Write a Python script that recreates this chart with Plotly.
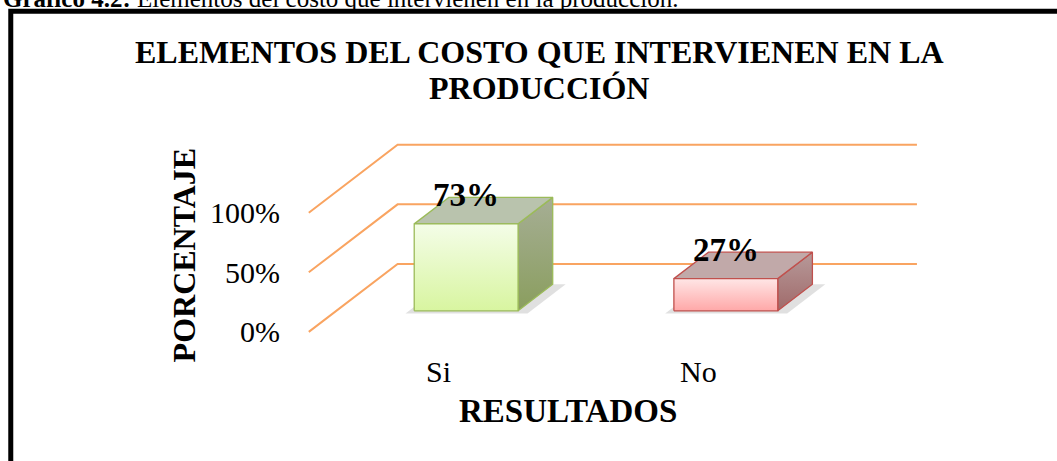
import plotly.graph_objects as go

# -------------------------
# DATA
# -------------------------
categories = ["Si", "No"]
values = [73, 27]
value_labels = ["73%", "27%"]
y_ticks = [0, 50, 100]
y_tick_text = ["0%", "50%", "100%"]

# -------------------------
# PSEUDO-3D PROJECTION
# -------------------------
DX = 0.342      # depth shift along x (category units) for full wall depth
DY = 57.1       # depth shift along y (percent units) for full wall depth
HALF_W = 0.2    # half bar width
Z_FRONT, Z_BACK = 0.31, 0.70

W, H = 1057, 461
L, T = 300.6, 139.2
R, B = W - 932.4, H - 339.1
X_RANGE = [-0.53, 1.9]
Y_RANGE = [-6, 162]

SERIF = "Liberation Serif, Times New Roman, serif"
GRID = "#F9A461"

faces = {
    "Si": dict(edge="#9BBB59", front=("#D8F5A0", "#F4FDE8"),
               top="#B9C3AD", side=("#8A9E5E", "#A6AE95")),
    "No": dict(edge="#C0504D", front=("#FFA8A8", "#FFE6E6"),
               top="#C1A9A9", side=("#A06A6A", "#B79A9A")),
}


def proj(x, y, z):
    return x + z * DX, y + z * DY


def paper_x(px):
    return (px - L) / (W - L - R)


def paper_y(py):
    return (H - B - py) / (H - T - B)


def poly(points, fillcolor=None, gradient=None, edge=None, width=1.3):
    xs = [p[0] for p in points] + [points[0][0]]
    ys = [p[1] for p in points] + [points[0][1]]
    kw = dict(x=xs, y=ys, mode="lines", fill="toself",
              line=dict(color=edge, width=width), hoverinfo="skip",
              showlegend=False)
    if gradient:
        kw["fillgradient"] = dict(type="vertical",
                                  colorscale=[[0, gradient[0]], [1, gradient[1]]])
    else:
        kw["fillcolor"] = fillcolor
    return go.Scatter(**kw)


fig = go.Figure()

# -------------------------
# WALL GRIDLINES
# -------------------------
x_left, x_right = -0.5, len(categories) - 0.5
for t in y_ticks:
    pts = [proj(x_left, t, 0), proj(x_left, t, 1), proj(x_right, t, 1)]
    fig.add_trace(go.Scatter(
        x=[p[0] for p in pts], y=[p[1] for p in pts], mode="lines",
        line=dict(color=GRID, width=2), hoverinfo="skip", showlegend=False))

# -------------------------
# BARS (shadow, side, top, front)
# -------------------------
for i, (cat, v) in enumerate(zip(categories, values)):
    st = faces[cat]
    x0, x1 = i - HALF_W, i + HALF_W
    shadow = [proj(x0 - 0.02, 0, Z_FRONT - 0.04), proj(x1 + 0.05, 0, Z_FRONT - 0.04),
              proj(x1 + 0.05, 0, Z_BACK), proj(x0 - 0.02, 0, Z_BACK)]
    side = [proj(x1, 0, Z_FRONT), proj(x1, 0, Z_BACK),
            proj(x1, v, Z_BACK), proj(x1, v, Z_FRONT)]
    top = [proj(x0, v, Z_FRONT), proj(x1, v, Z_FRONT),
           proj(x1, v, Z_BACK), proj(x0, v, Z_BACK)]
    front = [proj(x0, 0, Z_FRONT), proj(x1, 0, Z_FRONT),
             proj(x1, v, Z_FRONT), proj(x0, v, Z_FRONT)]
    fig.add_trace(poly(shadow, fillcolor="rgba(0,0,0,0.12)",
                       edge="rgba(0,0,0,0)", width=0))
    fig.add_trace(poly(side, gradient=st["side"], edge=st["edge"]))
    fig.add_trace(poly(top, fillcolor=st["top"], edge=st["edge"]))
    fig.add_trace(poly(front, gradient=st["front"], edge=st["edge"]))

    lx, ly = proj(i, v, Z_FRONT)
    fig.add_annotation(x=lx, y=ly, text=f"<b>{value_labels[i]}</b>",
                       showarrow=False, yshift=29, yanchor="middle",
                       font=dict(family=SERIF, size=33, color="black"))

# -------------------------
# TEXT
# -------------------------
title_lines = ["ELEMENTOS DEL COSTO QUE INTERVIENEN EN LA", "PRODUCCIÓN"]
for line, py in zip(title_lines, [52, 88]):
    fig.add_annotation(
        xref="paper", yref="paper", x=paper_x(539), y=paper_y(py),
        text=f"<b>{line}</b>", showarrow=False,
        xanchor="center", yanchor="middle",
        font=dict(family=SERIF, size=32, color="black"))

fig.add_annotation(
    xref="paper", yref="paper", x=paper_x(183), y=paper_y(255),
    text="<b>PORCENTAJE</b>", textangle=-90, showarrow=False,
    xanchor="center", yanchor="middle",
    font=dict(family=SERIF, size=32, color="black"))

fig.add_annotation(
    xref="x", yref="paper", x=(x_left + x_right) / 2, y=paper_y(411),
    text="<b>RESULTADOS</b>", showarrow=False, yanchor="middle",
    font=dict(family=SERIF, size=33, color="black"))

fig.add_annotation(
    xref="paper", yref="paper", x=paper_x(0), y=paper_y(14),
    text="<b>Gráfico 4.2:</b> Elementos del costo que intervienen en la producción.",
    showarrow=False, xanchor="left", yanchor="bottom",
    font=dict(family=SERIF, size=25, color="black"))

# frame
fig.add_shape(type="rect", xref="paper", yref="paper",
              x0=paper_x(10), y0=paper_y(11.5), x1=paper_x(1075), y1=paper_y(480),
              line=dict(color="black", width=5), layer="above")

# -------------------------
# STYLE
# -------------------------
fig.update_layout(
    width=W, height=H,
    margin=dict(l=L, r=R, t=T, b=B, pad=0),
    paper_bgcolor="white", plot_bgcolor="white",
    showlegend=False,
    xaxis=dict(range=X_RANGE, tickvals=list(range(len(categories))),
               ticktext=categories, showgrid=False, zeroline=False,
               showline=False, ticks="", ticklabelstandoff=12,
               tickfont=dict(family=SERIF, size=30, color="black"),
               fixedrange=True),
    yaxis=dict(range=Y_RANGE, tickvals=y_ticks, ticktext=y_tick_text,
               showgrid=False, zeroline=False, showline=False, ticks="",
               ticklabelstandoff=20,
               tickfont=dict(family=SERIF, size=30, color="black"),
               fixedrange=True),
)

# drop the default page margin so the figure fills the window
fig.write_html("out.html", config={"displayModeBar": False},
               post_script="document.body.style.margin='0';")
